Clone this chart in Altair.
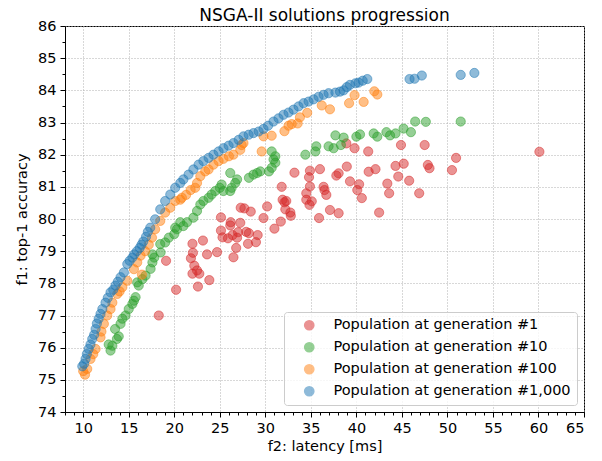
import altair as alt
import pandas as pd

labels = [
    "Population at generation #1",
    "Population at generation #10",
    "Population at generation #100",
    "Population at generation #1,000",
]
colors = ["#d62728", "#2ca02c", "#ff7f0e", "#1f77b4"]

gen1_points = [
    (18.3, 77.0), (20.2, 77.8), (19.1, 78.7), (22.6, 77.9), (23.85, 78.1), (22.0, 78.3),
    (22.75, 78.3), (22.5, 78.4), (22.2, 78.55), (21.83, 78.78), (22.05, 78.95), (22.0, 79.23),
    (23.15, 79.33), (23.6, 78.9), (24.7, 78.97), (26.5, 78.81), (26.8, 79.1), (25.13, 79.64),
    (25.3, 79.43), (25.9, 79.4), (26.4, 79.5), (27.0, 79.59), (27.9, 79.6), (28.2, 79.56),
    (29.16, 79.5), (28.97, 79.28), (28.1, 79.23), (25.13, 80.05), (26.2, 79.9), (26.15, 79.8),
    (27.25, 79.88), (27.7, 80.33), (28.4, 80.23), (30.2, 80.39), (29.8, 80.03), (31.0, 79.7),
    (31.7, 79.92), (32.1, 80.52), (32.75, 80.2), (32.2, 80.3), (32.8, 80.1), (27.3, 80.35),
    (26.9, 79.42), (31.8, 81.0), (31.9, 80.6), (32.3, 80.56), (33.2, 81.44), (34.9, 81.5),
    (34.8, 81.3), (36.0, 81.55), (34.9, 81.01), (34.5, 80.8), (34.5, 80.6), (35.1, 80.55),
    (34.85, 80.44), (36.4, 81.0), (36.5, 80.9), (36.7, 80.75), (37.8, 81.35), (38.05, 81.42),
    (38.95, 81.63), (39.3, 81.17), (40.3, 81.08), (40.1, 80.9), (40.6, 80.65), (37.1, 80.28),
    (38.05, 80.18), (35.9, 80.03), (39.8, 82.2), (38.9, 82.35), (41.3, 82.1), (41.35, 81.47),
    (42.1, 81.55), (43.4, 81.1), (43.6, 80.8), (44.3, 81.65), (45.2, 81.72), (44.6, 81.32),
    (45.8, 81.19), (44.9, 82.3), (42.5, 80.2), (47.5, 82.3), (47.85, 81.68), (48.03, 81.58),
    (50.95, 81.9), (50.5, 81.52), (60.1, 82.09), (46.9, 80.8),
]

gen10_points = [
    (12.8, 76.1), (13.0, 75.91), (13.2, 76.06), (13.5, 76.58), (13.7, 76.27), (13.9, 76.35),
    (14.1, 76.74), (14.3, 76.9), (14.65, 77.0), (15.0, 77.2), (15.4, 77.36), (15.57, 77.46),
    (15.75, 77.57), (16.1, 77.93), (15.93, 78.03), (16.5, 78.13), (16.85, 78.24), (17.4, 78.45),
    (17.6, 78.65), (17.8, 78.8), (17.6, 78.9), (18.5, 78.96), (18.46, 79.22), (19.0, 79.27),
    (19.4, 79.42), (20.0, 79.53), (20.1, 79.73), (20.3, 79.68), (20.66, 79.9), (21.0, 79.78),
    (21.4, 79.9), (22.1, 80.04), (22.5, 80.25), (22.86, 80.45), (23.2, 80.56), (23.77, 80.66),
    (24.1, 80.76), (24.5, 80.87), (25.0, 80.97), (25.2, 81.07), (25.4, 80.87), (26.15, 80.87),
    (26.3, 80.97), (26.7, 81.12), (26.9, 81.23), (26.15, 81.43), (28.2, 81.28), (28.7, 81.38),
    (29.1, 81.43), (29.45, 81.48), (30.4, 81.48), (30.7, 81.59), (30.7, 82.1), (30.9, 81.85),
    (31.1, 81.95), (31.1, 81.75), (34.4, 82.0), (35.5, 82.1), (35.6, 82.26), (36.95, 82.26),
    (37.5, 82.2), (37.7, 82.6), (38.3, 82.3), (38.6, 82.53), (40.0, 82.56), (40.4, 82.63),
    (41.9, 82.66), (42.3, 82.56), (43.3, 82.7), (43.7, 82.6), (44.3, 82.66), (45.18, 82.81),
    (45.99, 82.7), (46.46, 83.03), (47.63, 83.02), (51.46, 83.03),
]

gen100_points = [
    (10.0, 75.27), (10.2, 75.16), (10.44, 75.34), (10.8, 75.65), (11.1, 75.8), (11.36, 75.96),
    (11.9, 76.32), (12.0, 76.5), (12.27, 76.74), (12.64, 77.0), (13.0, 77.2), (13.2, 77.4),
    (13.74, 77.67), (14.0, 77.75), (14.3, 77.88), (14.84, 78.08), (15.57, 78.44), (15.93, 78.65),
    (16.3, 78.86), (16.45, 78.27), (16.8, 79.0), (17.2, 79.2), (17.55, 79.42), (17.9, 79.68),
    (18.46, 79.94), (19.0, 80.2), (19.56, 80.35), (20.1, 80.56), (20.66, 80.6), (20.84, 80.66),
    (21.3, 80.75), (21.8, 80.9), (22.3, 80.97), (22.5, 81.12), (22.86, 81.33), (23.4, 81.48),
    (23.77, 81.54), (24.3, 81.69), (24.87, 81.8), (25.4, 81.87), (26.0, 81.95), (26.5, 82.0),
    (27.25, 82.15), (27.4, 82.3), (27.6, 82.36), (29.6, 82.1), (29.8, 82.57), (30.7, 82.59),
    (32.1, 82.73), (32.55, 82.9), (32.9, 82.95), (33.55, 82.97), (33.8, 83.16), (34.6, 83.3),
    (36.2, 83.53), (37.1, 83.41), (39.2, 83.6), (39.8, 83.85), (40.8, 83.64), (41.97, 83.97),
    (42.3, 83.87),
]

gen1000_points = [
    (9.9, 75.42), (10.1, 75.5), (10.26, 75.65), (10.4, 75.8), (10.6, 75.96), (10.8, 76.1),
    (10.99, 76.27), (11.2, 76.4), (11.36, 76.58), (11.5, 76.75), (11.7, 76.9), (11.9, 77.05),
    (12.1, 77.2), (12.45, 77.4), (12.7, 77.55), (13.0, 77.72), (13.3, 77.8), (13.55, 77.93),
    (13.8, 78.05), (14.1, 78.19), (14.47, 78.34), (14.84, 78.6), (15.1, 78.7), (15.4, 78.8),
    (15.6, 78.9), (15.9, 79.0), (16.2, 79.1), (16.4, 79.2), (16.6, 79.3), (16.9, 79.45),
    (17.1, 79.6), (17.36, 79.73), (17.9, 79.99), (18.46, 80.3), (19.0, 80.56), (19.56, 80.76),
    (20.1, 80.97), (20.66, 81.12), (21.0, 81.23), (21.57, 81.38), (22.1, 81.54), (22.67, 81.69),
    (23.2, 81.8), (23.77, 81.9), (24.3, 82.0), (24.87, 82.1), (25.4, 82.2), (25.97, 82.28),
    (26.5, 82.36), (27.07, 82.46), (27.6, 82.57), (28.17, 82.62), (28.7, 82.67), (29.27, 82.72),
    (29.8, 82.8), (30.3, 82.9), (30.9, 83.03), (31.45, 83.13), (32.0, 83.24), (32.55, 83.31),
    (33.1, 83.4), (33.65, 83.5), (34.2, 83.6), (34.75, 83.65), (35.3, 83.72), (35.85, 83.8),
    (36.4, 83.86), (36.95, 83.91), (37.7, 83.93), (38.2, 83.96), (38.6, 84.0), (38.95, 84.1),
    (39.3, 84.17), (39.9, 84.22), (40.25, 84.24), (40.7, 84.3), (41.2, 84.35), (45.84, 84.35),
    (46.39, 84.36), (47.19, 84.46), (51.46, 84.48), (52.96, 84.54),
]

x_ticks = list(range(8, 66))
y_ticks = [74 + 0.5 * i for i in range(25)]

rows = []
for lab, pts in zip(labels, [gen1_points, gen10_points, gen100_points, gen1000_points]):
    for x, y in pts:
        rows.append({"latency": x, "accuracy": y, "series": lab})
df = pd.DataFrame(rows)

font = "DejaVu Sans"
fs = 14.5
cscale = alt.Scale(domain=labels, range=colors)

x_axis = alt.Axis(
    values=x_ticks,
    title="f2: latency [ms]",
    format="d",
    labelExpr="datum.value % 5 === 0 ? datum.label : ''",
    labelOverlap=False,
    tickSize={"condition": {"test": "datum.value % 5 === 0", "value": 5}, "value": 3},
    gridOpacity={"condition": {"test": "datum.value % 5 === 0", "value": 1}, "value": 0},
    labelPadding=4,
    titlePadding=5,
)
y_axis = alt.Axis(
    values=y_ticks,
    title="f1: top-1 accuracy",
    format=".0f",
    labelExpr="datum.value % 1 === 0 ? datum.label : ''",
    labelOverlap=False,
    tickSize={"condition": {"test": "datum.value % 1 === 0", "value": 5}, "value": 3},
    gridOpacity={"condition": {"test": "datum.value % 1 === 0", "value": 1}, "value": 0},
    labelPadding=4,
    titlePadding=8,
)

chart = (
    alt.Chart(df)
    .mark_circle(size=85, fillOpacity=0.5, strokeOpacity=0.5, strokeWidth=1)
    .encode(
        x=alt.X("latency:Q", scale=alt.Scale(domain=[8, 65], nice=False, zero=False), axis=x_axis),
        y=alt.Y("accuracy:Q", scale=alt.Scale(domain=[74, 86], nice=False, zero=False), axis=y_axis),
        color=alt.Color(
            "series:N",
            scale=cscale,
            legend=alt.Legend(
                title=None,
                orient="bottom-right",
                offset=7,
                padding=6,
                strokeColor="#cccccc",
                fillColor="rgba(255,255,255,0.8)",
                cornerRadius=3,
                labelFont=font,
                labelFontSize=fs,
                labelColor="black",
                labelLimit=0,
                symbolSize=85,
                symbolOpacity=0.5,
                symbolType="circle",
                symbolOffset=12,
                labelOffset=17,
                rowPadding=6,
            ),
        ),
        stroke=alt.Stroke("series:N", scale=cscale, legend=None),
    )
    .properties(
        width=519,
        height=386,
        autosize=alt.AutoSizeParams(type="none"),
        padding={"left": 57, "top": 18, "right": 10, "bottom": 48},
        title=alt.TitleParams(
            "NSGA-II solutions progression",
            font=font,
            fontSize=17,
            fontWeight="normal",
            color="black",
            frame="group",
            offset=6,
            dy=13,
        ),
    )
    .configure_view(stroke="black", strokeWidth=1)
    .configure_axis(
        labelFont=font,
        titleFont=font,
        labelFontSize=fs,
        titleFontSize=fs,
        titleFontWeight="normal",
        labelColor="black",
        titleColor="black",
        domainColor="black",
        tickColor="black",
        tickWidth=1,
        gridColor="#b0b0b0",
        gridDash=[1, 2],
        gridWidth=1,
    )
)

chart.save("out.html", embed_options={"renderer": "svg", "actions": False})
